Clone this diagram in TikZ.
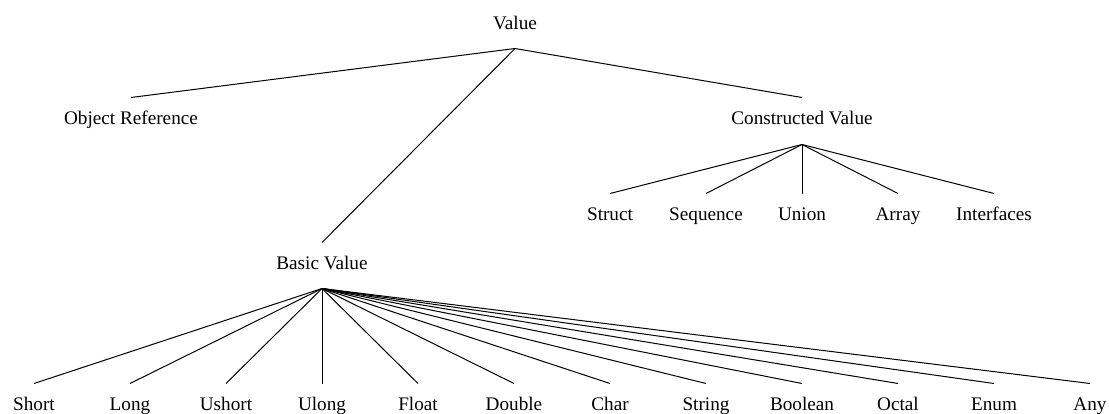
\documentclass[tikz,border=0pt]{standalone}
\usepackage{fontspec}
\setmainfont{Liberation Serif}
\usepackage{tikz}

\tikzset{typename/.style={inner xsep=0pt, inner ysep=6pt, text height=7pt, text depth=2pt, font=\fontsize{9.6}{11}\selectfont}}

\begin{document}
\begin{tikzpicture}[x=0.5pt, y=-0.5pt, line width=0.5pt]
		\useasboundingbox (0,0) rectangle (1109,413);
		\node [typename] (val) at (515,24) {Value};
		\node [typename] (objref) at (131,119) {Object Reference};
		\node [typename] (cval) at (802,119) {Constructed Value};
		\node [typename] (bval) at (322,264) {Basic Value};
		\node [typename] (struct) at (610,215) {Struct};
		\node [typename] (seq) at (706,215) {Sequence};
		\node [typename] (union) at (802,215) {Union};
		\node [typename] (array) at (898,215) {Array};
		\node [typename] (intf) at (994,215) {Interfaces};
		\node [typename] (short) at (34,405) {Short};
		\node [typename] (long) at (130,405) {Long};
		\node [typename] (ushort) at (226,405) {Ushort};
		\node [typename] (ulong) at (322,405) {Ulong};
		\node [typename] (float) at (418,405) {Float};
		\node [typename] (double) at (514,405) {Double};
		\node [typename] (char) at (610,405) {Char};
		\node [typename] (string) at (706,405) {String};
		\node [typename] (bool) at (802,405) {Boolean};
		\node [typename] (octal) at (898,405) {Octal};
		\node [typename] (enum) at (994,405) {Enum};
		\node [typename] (any) at (1090,405) {Any};
		\coordinate (valtop) at ([yshift=-1.5pt]val.south);
		\coordinate (cvaltop) at ([yshift=-2pt]cval.south);
		\coordinate (bvaltop) at ([yshift=-1.5pt]bval.south);
		\draw (valtop) -- (objref.north);
		\draw (valtop) -- (cval.north);
		\draw (valtop) -- (bval.north);
		\draw (cvaltop) -- (struct.north);
		\draw (cvaltop) -- (seq.north);
		\draw (cvaltop) -- (union.north);
		\draw (cvaltop) -- (array.north);
		\draw (cvaltop) -- (intf.north);
		\draw (bvaltop) -- (short.north);
		\draw (bvaltop) -- (long.north);
		\draw (bvaltop) -- (ushort.north);
		\draw (bvaltop) -- (ulong.north);
		\draw (bvaltop) -- (float.north);
		\draw (bvaltop) -- (double.north);
		\draw (bvaltop) -- (char.north);
		\draw (bvaltop) -- (string.north);
		\draw (bvaltop) -- (bool.north);
		\draw (bvaltop) -- (octal.north);
		\draw (bvaltop) -- (enum.north);
		\draw (bvaltop) -- (any.north);
		\end{tikzpicture}
\end{document}
